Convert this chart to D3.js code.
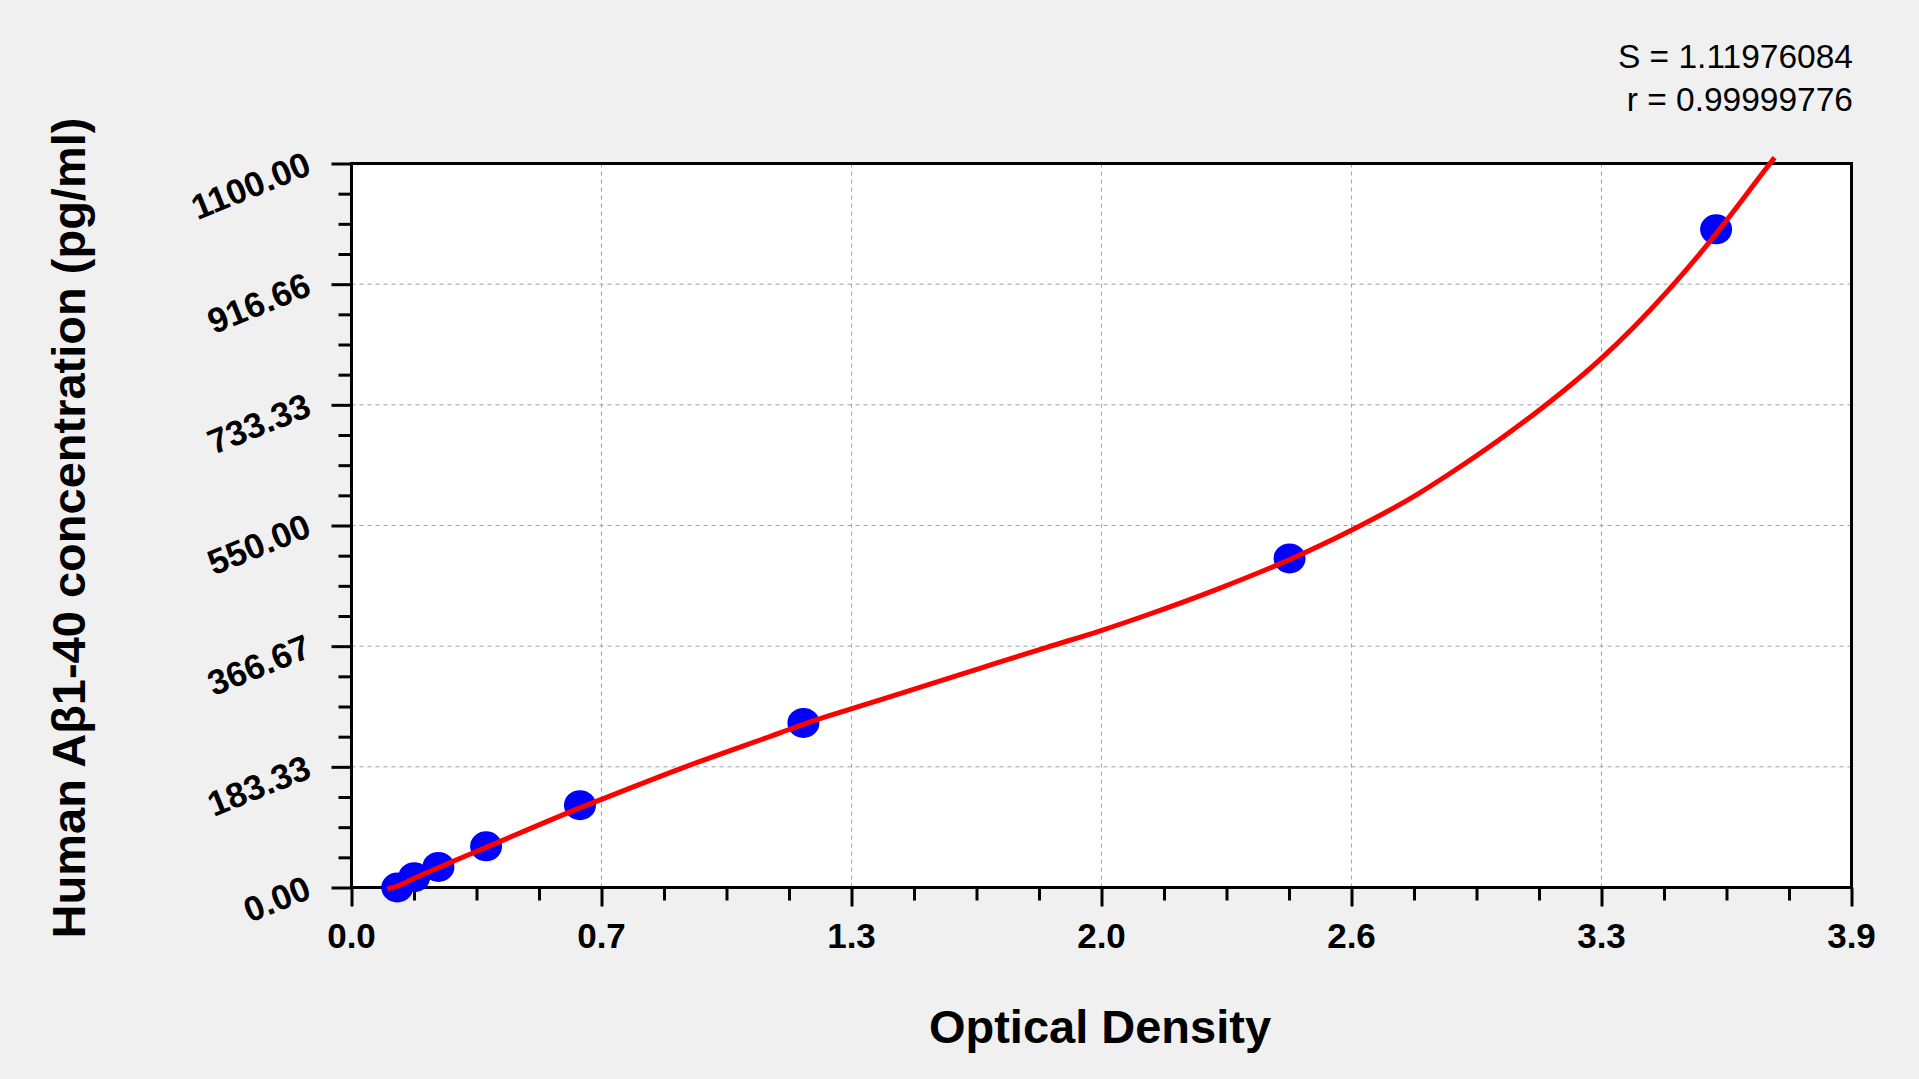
<!DOCTYPE html>
<html>
<head>
<meta charset="utf-8">
<script src="https://d3js.org/d3.v7.min.js"></script>
<style>
  body { margin: 0; background: #f0f0f0; }
  svg { display: block; font-family: "Liberation Sans", Arial, sans-serif; }
</style>
</head>
<body>
<svg id="chart"></svg>
<script>
// standards (blue points)
var pointOD = [0.119, 0.163, 0.226, 0.350, 0.594, 1.175, 2.439, 3.548];
var pointConc = [0, 15.625, 31.25, 62.5, 125, 250, 500, 1000];

// fitted curve
var curveOD = [0.093, 0.119, 0.163, 0.226, 0.269, 0.350, 0.594, 0.650, 0.866, 1.114, 1.175, 1.297, 1.461, 1.634, 1.808, 1.947, 2.068, 2.250, 2.438, 2.597, 2.770, 2.856, 2.986, 3.116, 3.244, 3.333, 3.420, 3.506, 3.593, 3.680, 3.700];
var curveConc = [-2, 2, 14, 30, 41, 61, 121, 134, 183, 235, 248, 271, 301, 333, 365, 390, 414, 453, 498, 542, 597, 629, 681, 738, 801, 851, 905, 963, 1027, 1094, 1109];

var xTickValues = [0, 0.65, 1.3, 1.95, 2.6, 3.25, 3.9];
var xTickLabels = ["0.0", "0.7", "1.3", "2.0", "2.6", "3.3", "3.9"];
var yTickValues = [0, 183.33, 366.67, 550, 733.33, 916.66, 1100];
var yTickLabels = ["0.00", "183.33", "366.67", "550.00", "733.33", "916.66", "1100.00"];

var statLines = ["S = 1.11976084", "r = 0.99999776"];

var W = 1919, H = 1079;
var plotL = 351.5, plotR = 1851.5, plotT = 163.5, plotB = 887.5;

var svg = d3.select("#chart").attr("width", W).attr("height", H);

var x = d3.scaleLinear().domain([0, 3.9]).range([plotL, plotR]);
var y = d3.scaleLinear().domain([0, 1100]).range([plotB, plotT]);

svg.append("rect")
    .attr("x", plotL).attr("y", plotT)
    .attr("width", plotR - plotL).attr("height", plotB - plotT)
    .attr("fill", "#fff");

// grid
svg.append("g").selectAll("line")
    .data(xTickValues.slice(1, -1))
    .enter().append("line")
    .attr("x1", d => x(d)).attr("x2", d => x(d))
    .attr("y1", plotT).attr("y2", plotB)
    .attr("stroke", "#a0a0a0").attr("stroke-dasharray", "4,4");
svg.append("g").selectAll("line")
    .data(yTickValues.slice(1, -1))
    .enter().append("line")
    .attr("y1", d => y(d)).attr("y2", d => y(d))
    .attr("x1", plotL).attr("x2", plotR)
    .attr("stroke", "#a0a0a0").attr("stroke-dasharray", "4,4");

// minor ticks, 4 per major interval
var xMinor = d3.range(0, 25).map(i => i * 0.1625).filter((d, i) => i % 4 != 0);
var yMinor = d3.range(0, 25).map(i => i * 1100 / 24).filter((d, i) => i % 4 != 0);

svg.append("g")
    .attr("transform", "translate(0," + plotB + ")")
    .call(d3.axisBottom(x).tickValues(xMinor).tickSize(13).tickSizeOuter(0).tickFormat(""))
    .call(g => g.select(".domain").remove())
    .selectAll("line").attr("stroke-width", 3);
svg.append("g")
    .attr("transform", "translate(" + plotL + ",0)")
    .call(d3.axisLeft(y).tickValues(yMinor).tickSize(13).tickSizeOuter(0).tickFormat(""))
    .call(g => g.select(".domain").remove())
    .selectAll("line").attr("stroke-width", 3);

// major ticks
svg.append("g")
    .attr("transform", "translate(0," + plotB + ")")
    .call(d3.axisBottom(x).tickValues(xTickValues).tickSize(19).tickSizeOuter(0).tickFormat(""))
    .call(g => g.select(".domain").remove())
    .selectAll("line").attr("stroke-width", 3);
svg.append("g")
    .attr("transform", "translate(" + plotL + ",0)")
    .call(d3.axisLeft(y).tickValues(yTickValues).tickSize(20).tickSizeOuter(0).tickFormat(""))
    .call(g => g.select(".domain").remove())
    .selectAll("line").attr("stroke-width", 3);

// frame
svg.append("rect")
    .attr("x", plotL).attr("y", plotT)
    .attr("width", plotR - plotL).attr("height", plotB - plotT)
    .attr("fill", "none").attr("stroke", "#000").attr("stroke-width", 3);

// tick labels
svg.append("g").selectAll("text")
    .data(xTickValues)
    .enter().append("text")
    .attr("x", d => x(d)).attr("y", 948)
    .attr("text-anchor", "middle")
    .attr("font-size", 35).attr("font-weight", "bold")
    .text((d, i) => xTickLabels[i]);

svg.append("g").selectAll("text")
    .data(yTickValues)
    .enter().append("text")
    .attr("transform", d => "translate(313," + (y(d) + 10) + ") rotate(-22)")
    .attr("text-anchor", "end")
    .attr("font-size", 35).attr("font-weight", "bold")
    .text((d, i) => yTickLabels[i]);

// points
svg.append("g").selectAll("ellipse")
    .data(pointOD)
    .enter().append("ellipse")
    .attr("cx", d => x(d))
    .attr("cy", (d, i) => y(pointConc[i]))
    .attr("rx", 16).attr("ry", 15)
    .attr("fill", "#0000ff");

// curve
var line = d3.line()
    .x(d => x(d[0]))
    .y(d => y(d[1]))
    .curve(d3.curveMonotoneX);

svg.append("path")
    .datum(curveOD.map((d, i) => [d, curveConc[i]]))
    .attr("d", line)
    .attr("fill", "none")
    .attr("stroke", "#ff0000")
    .attr("stroke-width", 5);

// titles
svg.append("text")
    .attr("x", 1100).attr("y", 1043)
    .attr("text-anchor", "middle")
    .attr("font-size", 47).attr("font-weight", "bold")
    .text("Optical Density");

svg.append("text")
    .attr("transform", "translate(85,528) rotate(-90)")
    .attr("text-anchor", "middle")
    .attr("font-size", 47).attr("font-weight", "bold")
    .text("Human A\u03b21-40 concentration (pg/ml)");

svg.append("g").selectAll("text")
    .data(statLines)
    .enter().append("text")
    .attr("x", 1853)
    .attr("y", (d, i) => 68 + i * 43)
    .attr("text-anchor", "end")
    .attr("font-size", 33.5)
    .text(d => d);
</script>
</body>
</html>
